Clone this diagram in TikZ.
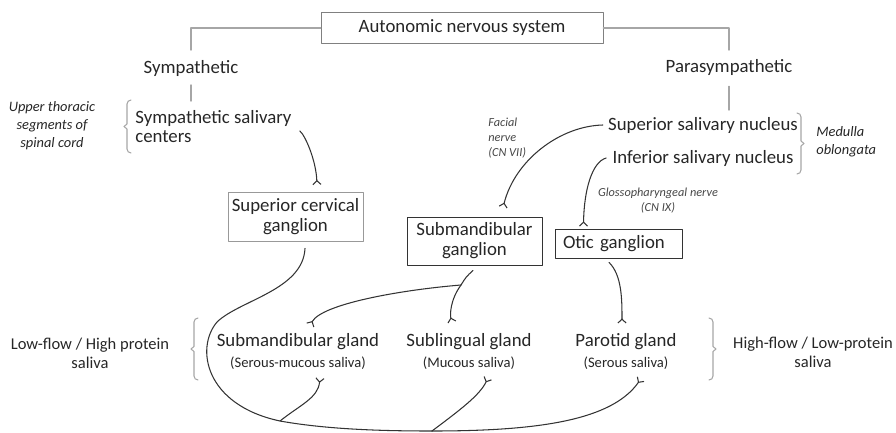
\documentclass[tikz,border=0pt]{standalone}
\usepackage{fontspec}
\setmainfont{Carlito}
\usetikzlibrary{arrows.meta}
\definecolor{ink}{HTML}{262626}
\definecolor{rule}{HTML}{A6A6A6}
\definecolor{nerveline}{HTML}{333333}

\begin{document}
\begin{tikzpicture}[x=0.2mm, y=-0.2mm, line cap=round, line join=round,
	lbl/.style={text=ink, inner sep=0pt, align=center, font=\fontsize{10.7}{10.8}\selectfont},
	sub/.style={text=ink, inner sep=0pt, align=center, font=\fontsize{8.3}{10}\selectfont},
	note/.style={text=ink, inner sep=0pt, font=\fontsize{8.2}{10.2}\selectfont\itshape},
	tiny/.style={text=ink!85, inner sep=0pt, font=\fontsize{7}{8.6}\selectfont\itshape},
	side/.style={text=ink, inner sep=0pt, align=center, font=\fontsize{9.4}{10.8}\selectfont},
	box/.style={draw=#1, line width=0.45pt, text=ink, align=center, inner sep=0pt, font=\fontsize{10.7}{11.3}\selectfont},
	tree/.style={draw=rule, line width=0.8pt},
	brk/.style={draw=rule, line width=0.6pt},
	nerve/.style={draw=nerveline, line width=0.6pt, -{Straight Barb[reversed,length=2.2pt,width=4.6pt]}},
	plain/.style={draw=nerveline, line width=0.6pt}]
\useasboundingbox (0,0) rectangle (896,432);

% top of the tree
\node[box=gray, minimum width=56.4mm, minimum height=6.2mm] (ans) at (462,28) {Autonomic nervous system};
\node[lbl] (symp) at (191,68) {Sympathetic};
\node[lbl] (para) at (729,67) {Parasympathetic};
\coordinate (symdrop) at (191,50);
\coordinate (paradrop) at (729,50);
\draw[tree] (ans.west) -| (symdrop);
\draw[tree] (ans.east) -| (paradrop);

% centres
\node[lbl, anchor=west, align=left] (symsal) at (135,126.5) {Sympathetic salivary\\centers};
\node[note, align=center] (thor) at (52,126) {Upper thoracic\\segments of\\spinal cord};
\node[lbl] (ssn) at (703,125) {Superior salivary nucleus};
\node[lbl] (isn) at (703,158) {Inferior salivary nucleus};
\node[note, anchor=west, align=left] (med) at (816,142) {Medulla\\oblongata};
\coordinate (symstub) at (191,85);
\coordinate (symtick) at (191,101);
\coordinate (paratick) at (729,110);
\draw[tree] (symstub) -- (symtick);
\draw[tree] ([yshift=-2.2mm]para.south) -- (paratick);
\draw[brk] (131,100) to[out=180,in=90] (127,104) -- (127,124) -- (124,126.5) -- (127,129) -- (127,149) to[out=-90,in=180] (131,153);
\draw[brk] (797,113) to[out=0,in=90] (801,117) -- (801,141) -- (804,143.5) -- (801,146) -- (801,170) to[out=-90,in=0] (797,174);

% ganglia
\node[box=gray!80, minimum width=27mm, minimum height=9.8mm] (scg) at (295.5,216.5) {Superior cervical\\ganglion};
\node[box=nerveline, minimum width=27mm, minimum height=9.6mm] (smg) at (474.5,241) {Submandibular\\ganglion};
\node[box=nerveline, minimum height=5.8mm, inner xsep=1.6mm, text width=22.2mm, align=left] (otic) at (618.5,243.5) {Otic ganglion};
\node[tiny, anchor=west, align=left] (facial) at (488,138) {Facial\\nerve\\(CN VII)};
\node[tiny, align=center] (glosso) at (658,201) {Glossopharyngeal nerve\\(CN IX)};

\draw[nerve] ([shift={(1.6mm,-0.9mm)}]symsal.east) .. controls (305,135) and (316,160) .. ([shift={(4.3mm,1.3mm)}]scg.north);
\draw[nerve] ([xshift=-1mm]ssn.west) .. controls (560,126) and (515,160) .. ([shift={(5.7mm,1.8mm)}]smg.north);
\draw[nerve] ([xshift=-1.2mm]isn.west) .. controls (592,162) and (584,190) .. ([shift={(-7mm,0.4mm)}]otic.north);

% glands
\node[lbl] (smgl) at (298,342) {Submandibular gland};
\node[sub] (smgls) at (298,363) {(Serous-mucous saliva)};
\node[lbl] (sll) at (469,342) {Sublingual gland};
\node[sub] (slls) at (469,363) {(Mucous saliva)};
\node[lbl] (par) at (626,342) {Parotid gland};
\node[sub] (pars) at (626,363) {(Serous saliva)};
\node[side] (low) at (90,353.5) {Low-flow / High protein\\saliva};
\node[side] (high) at (813,352) {High-flow / Low-protein\\saliva};
\draw[brk] (198,318) to[out=180,in=90] (194,322) -- (194,346.5) -- (191,349) -- (194,351.5) -- (194,376) to[out=-90,in=180] (198,380);
\draw[brk] (709,318) to[out=0,in=90] (713,322) -- (713,346.5) -- (716,349) -- (713,351.5) -- (713,376) to[out=-90,in=0] (709,380);

% postganglionic fibres
\coordinate (smgfork) at (461,285);
\coordinate (scgfork) at (280,421);
\coordinate (slfork) at (432,431);
\draw[plain] ([shift={(-0.3mm,-1mm)}]smg.south) .. controls (466,277) .. (smgfork);
\draw[nerve] (smgfork) .. controls (450,300) and (450,315) .. ([shift={(-3.4mm,2.2mm)}]sll.north);
\draw[nerve] (smgfork) .. controls (400,290) and (322,304) .. ([shift={(2.4mm,1.6mm)}]smgl.north);
\draw[nerve] ([shift={(-1.9mm,-0.8mm)}]otic.south) .. controls (622,275) and (622,300) .. ([shift={(-0.8mm,2mm)}]par.north);
\draw[plain] ([shift={(1.9mm,-1.4mm)}]scg.south) .. controls (303,290) and (240,300) .. (217,322)
	.. controls (195,348) and (205,405) .. (scgfork)
	.. controls (330,430) and (390,431) .. (slfork);
\draw[nerve] (slfork) .. controls (540,431) and (612,420) .. ([shift={(3mm,-1.8mm)}]pars.south);
\draw[nerve] (scgfork) .. controls (300,405) and (318,398) .. ([shift={(4.4mm,-1.6mm)}]smgls.south);
\draw[nerve] (slfork) .. controls (460,410) and (480,395) .. ([shift={(3.8mm,-1.6mm)}]slls.south);
\end{tikzpicture}
\end{document}
